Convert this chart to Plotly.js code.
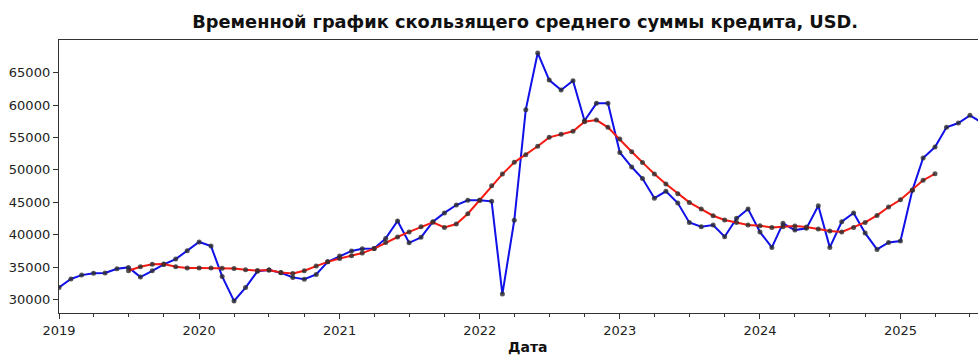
<!DOCTYPE html>
<html>
<head>
<meta charset="utf-8">
<script src="https://cdn.plot.ly/plotly-3.0.1.min.js"></script>
<style>
  html, body { margin: 0; padding: 0; background: #fff; }
  #chart { width: 978px; height: 356px; }
</style>
</head>
<body>
<div id="chart"></div>
<script>
// Monthly loan amount, USD, starting January 2019
const startMonth = '2019-01-01';
const loanAmount = [
  31850, 33150, 33750, 34030, 34080, 34730, 34940, 33450, 34420, 35400, 36220, 37500,
  38870, 38230, 33550, 29760, 31820, 34340, 34530, 34110, 33400, 33130, 33860, 35800,
  36690, 37480, 37820, 37850, 39420, 42110, 38740, 39580, 41990, 43350, 44570, 45290,
  45290, 45140, 30820, 42220, 59300, 68050, 63870, 62330, 63750, 57590, 60270, 60270,
  52680, 50440, 48660, 45620, 46680, 44870, 41890, 41220, 41480, 39670, 42510, 43950,
  40400, 38030, 41740, 40700, 40970, 44460, 38030, 41990, 43330, 40240, 37720, 38800,
  39010, 46840, 51830, 53520, 56570, 57230, 58420, 57300
];

// Moving average, first value in July 2019 (month index 6)
const maOffset = 6;
const movingAvg = [
  34420, 35040, 35420, 35450, 35040, 34850,
  34850, 34830, 34800, 34770, 34560, 34450, 34520, 34150, 34010, 34420, 35140, 35800,
  36300, 36720, 37150, 37850, 38780, 39630, 40420, 41200, 41900, 41120, 41630, 43220,
  45320, 47550, 49350, 51160, 52350, 53650, 55020, 55480, 55950, 57430, 57690, 56570,
  54760, 52800, 51150, 49350, 47810, 46310, 44980, 43950, 42920, 42250, 41890, 41480,
  41370, 41120, 41220, 41320, 41170, 40860, 40550, 40400, 41120, 41890, 42970, 44260,
  45380, 46880, 48380, 49400
];

const yTicks = [30000, 35000, 40000, 45000, 50000, 55000, 60000, 65000];

function monthDate(i) {
  const d = new Date(Date.UTC(2019, i, 1));
  return d.toISOString().slice(0, 10);
}
const loanDates = loanAmount.map((_, i) => monthDate(i));
const maDates = movingAvg.map((_, i) => monthDate(i + maOffset));

const markerStyle = { size: 5, color: 'rgba(45,45,45,0.8)' };

const traces = [
  {
    x: loanDates, y: loanAmount, type: 'scatter', mode: 'lines+markers',
    line: { color: '#1010e8', width: 2 }, marker: markerStyle,
    name: 'Сумма кредита', showlegend: false, cliponaxis: true
  },
  {
    x: maDates, y: movingAvg, type: 'scatter', mode: 'lines+markers',
    line: { color: '#f51a12', width: 2 }, marker: markerStyle,
    name: 'Скользящее среднее', showlegend: false, cliponaxis: true
  }
];

const layout = {
  width: 978, height: 356,
  margin: { l: 59, r: 0, t: 40, b: 43 },
  paper_bgcolor: '#fff', plot_bgcolor: '#fff',
  font: { family: 'DejaVu Sans, sans-serif', size: 13, color: '#222' },
  title: {
    text: '<b>Временной график скользящего среднего суммы кредита, USD.</b>',
    font: { family: 'DejaVu Sans, sans-serif', size: 17.8, color: '#111' },
    xref: 'container', x: 0.537, xanchor: 'center',
    yref: 'container', y: 0.94, yanchor: 'middle'
  },
  xaxis: {
    type: 'date',
    range: ['2019-01-01', '2025-07-22'],
    tick0: '2019-01-01', dtick: 'M12', tickformat: '%Y',
    ticks: 'outside', ticklen: 5, tickwidth: 1, tickcolor: '#333',
    minor: { dtick: 'M3', tick0: '2019-01-01', ticks: 'outside', ticklen: 3, tickcolor: '#333', showgrid: false },
    showgrid: false, zeroline: false,
    showline: true, linecolor: '#333', linewidth: 1.2, mirror: true,
    tickfont: { size: 13, color: '#222' }
  },
  yaxis: {
    range: [27900, 70050],
    tickvals: yTicks, tickformat: 'd',
    ticks: 'outside', ticklen: 5, tickwidth: 1, tickcolor: '#333',
    showgrid: false, zeroline: false,
    showline: true, linecolor: '#333', linewidth: 1.2, mirror: false,
    tickfont: { size: 13, color: '#222' }
  },
  annotations: [{
    text: '<b>Дата</b>',
    xref: 'paper', yref: 'paper',
    x: (527 - 59) / 919, y: -(347 - 313) / 273,
    xanchor: 'center', yanchor: 'middle', showarrow: false,
    font: { family: 'DejaVu Sans, sans-serif', size: 14, color: '#111' }
  }]
};

Plotly.newPlot('chart', traces, layout, { staticPlot: true, displayModeBar: false });
</script>
</body>
</html>
